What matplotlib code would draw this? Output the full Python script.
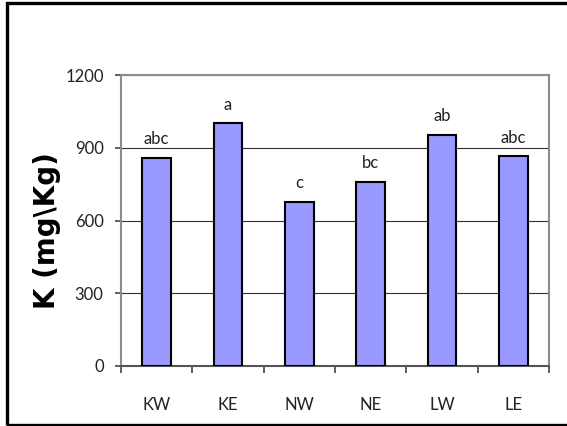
import matplotlib
matplotlib.use('Agg')
import matplotlib.pyplot as plt
from matplotlib.patches import Rectangle
import numpy as np

# 各采样点的钾含量 (mg/Kg) 与显著性字母
sites = ['KW', 'KE', 'NW', 'NE', 'LW', 'LE']
k_values = [857, 1000, 675, 758, 953, 864]
letters = ['abc', 'a', 'c', 'bc', 'ab', 'abc']
y_ticks = [0, 300, 600, 900, 1200]

plt.rcParams['font.family'] = ['Lato', 'DejaVu Sans']

W, H = 567, 426
fig = plt.figure(figsize=(W / 100, H / 100), dpi=100)
ax = fig.add_axes([121 / W, 1 - 366 / H, (549 - 121) / W, (366 - 75) / H])

x = np.arange(len(sites))
ax.set_axisbelow(True)
ax.yaxis.grid(True, color='#333333', lw=0.8)
ax.bar(x, k_values, width=0.4, color='#9999ff', edgecolor='black', lw=1.5, zorder=3)

# 柱顶的显著性字母
for xi, v, s in zip(x, k_values, letters):
    ax.annotate(s, xy=(xi, v), xytext=(0, 10), textcoords='offset points',
                ha='center', va='baseline', fontsize=12, color='#222222')

ax.set_xlim(-0.5, len(sites) - 0.5)
ax.set_ylim(0, 1200)
ax.set_yticks(y_ticks)
ax.set_yticklabels([str(t) for t in y_ticks], fontsize=12, color='#222222')

# 类别标签放在中间，刻度线放在类别之间
ax.set_xticks(x)
ax.set_xticklabels(sites, fontsize=12, color='#222222')
ax.tick_params(axis='x', which='major', length=0, pad=22)
ax.set_xticks(np.arange(-0.5, len(sites)), minor=True)
ax.tick_params(axis='x', which='minor', length=5, width=1.2, color='#444444', direction='out')
ax.tick_params(axis='y', length=4.5, width=1.2, color='#444444', direction='out', pad=8)

for side in ['top', 'right', 'left']:
    ax.spines[side].set_color('#8c8c8c')
    ax.spines[side].set_linewidth(1.5)
ax.spines['bottom'].set_color('#555555')
ax.spines['bottom'].set_linewidth(1.5)

fig.text(47 / W, 1 - 231 / H, r'K (mg\Kg)', rotation=90, ha='center', va='center',
         fontsize=20, fontweight='bold', family='DejaVu Sans')

# 整张图外面的黑色边框
fig.patches.append(Rectangle((6.5 / W, 1 - 424.5 / H), 1.0, (424.5 - 2.5) / H,
                             transform=fig.transFigure, fill=False,
                             edgecolor='black', lw=2.4))

fig.savefig('out.png', dpi=100)
